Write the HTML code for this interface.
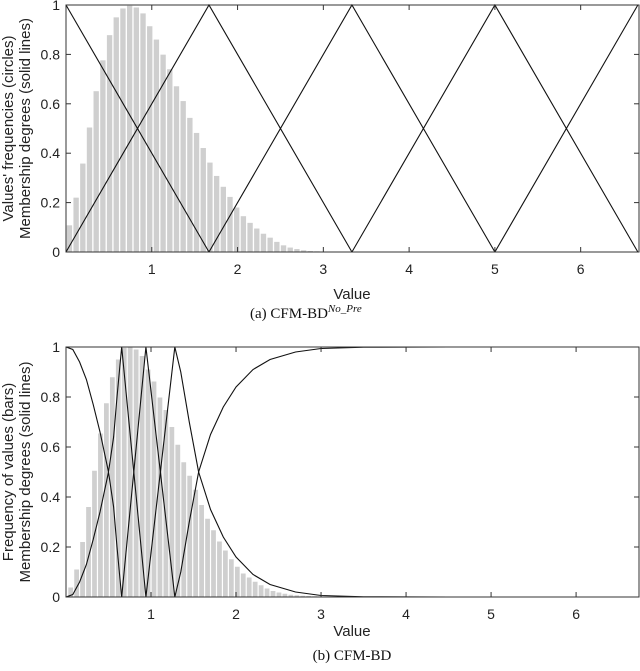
<!DOCTYPE html>
<html><head><meta charset="utf-8"><style>
body{margin:0;background:#fff;width:640px;height:666px;overflow:hidden}
svg text{font-family:"Liberation Sans",Arial,sans-serif;fill:#222}
.cap{font-family:"Liberation Serif","Times New Roman",serif;fill:#111}
</style></head><body>
<svg id="svg" width="640" height="666" xmlns="http://www.w3.org/2000/svg"></svg>
<script>
// ---- Data: panel (a) ----
const barsAStart = 0.04, barsAWidth = 0.078;
const barsAValues = [0.108,0.22,0.358,0.504,0.651,0.776,0.878,0.95,0.986,0.997,0.99,0.966,0.914,0.86,0.799,0.74,0.671,0.611,0.543,0.482,0.421,0.362,0.308,0.264,0.223,0.18,0.145,0.118,0.095,0.074,0.058,0.041,0.027,0.018,0.012,0.007,0.004,0.003,0.002,0.001];
const triPeaksA = [0, 1.6667, 3.3333, 5, 6.6667];
// ---- Data: panel (b) ----
const barsBStart = 0.055, barsBWidth = 0.07;
const barsBValues = [0.038,0.11,0.22,0.36,0.505,0.654,0.775,0.879,0.95,0.997,1.0,0.99,0.964,0.91,0.862,0.798,0.748,0.68,0.609,0.539,0.485,0.429,0.368,0.313,0.267,0.222,0.186,0.151,0.121,0.094,0.078,0.061,0.047,0.034,0.024,0.018,0.013,0.009,0.007,0.005,0.004,0.003,0.002,0.002,0.001,0.001];
const leftShoulderX = [0,0.08,0.16,0.24,0.32,0.4,0.5,0.56,0.6,0.63,0.655];
const leftShoulderY = [1,0.99,0.94,0.87,0.77,0.66,0.5,0.36,0.2,0.09,0];
const triPeaksB = [0.655, 0.94, 1.28];
const rightTailX = [1.28,1.35,1.45,1.56,1.7,1.85,2.0,2.2,2.4,2.7,3.0,3.5,4.5,6.74];
const rightTailY = [1,0.9,0.7,0.5,0.35,0.24,0.16,0.09,0.05,0.02,0.006,0.001,0,0];
const yTicks = [0,0.2,0.4,0.6,0.8,1];
const yTickLabels = ["0","0.2","0.4","0.6","0.8","1"];
const xTicks = [1,2,3,4,5,6];

const NS="http://www.w3.org/2000/svg", svg=document.getElementById('svg');
function mk(tag, attrs, parent){const e=document.createElementNS(NS,tag);for(const k in attrs)e.setAttribute(k,attrs[k]);(parent||svg).appendChild(e);return e;}

function panel(cfg){
  const g=mk('g',{});
  
  
  const L=66,R=639,T=cfg.top,B=cfg.bottom;
  const sx=v=>L+(v-0)*(R-L)/cfg.xmax, sy=v=>B-v*(B-T);
  cfg.bars.forEach((v,i)=>{
    const c=cfg.bStart+i*cfg.bWidth;
    const x0=sx(c-cfg.bWidth*0.4), x1=sx(c+cfg.bWidth*0.4);
    if(x0>R) return;
    const r=mk('rect',{x:x0,y:sy(v),width:x1-x0,height:B-sy(v),fill:'#cfcfcf'},g);
    
    
  });
  cfg.lines.forEach(pts=>{
    const p=mk('polyline',{points:pts.map(q=>sx(q[0]).toFixed(2)+','+sy(q[1]).toFixed(2)).join(' '),fill:'none',stroke:'#111','stroke-width':1.1},g);
    
    
  });
  const box=mk('rect',{x:L,y:T,width:R-L,height:B-T,fill:'none',stroke:'#333','stroke-width':1},g);
  
  
  yTicks.forEach((v,i)=>{
    mk('line',{x1:L,x2:L+5,y1:sy(v),y2:sy(v),stroke:'#333'},g);
    mk('line',{x1:R-5,x2:R,y1:sy(v),y2:sy(v),stroke:'#333'},g);
    const t=mk('text',{x:L-6,y:sy(v)+5,'text-anchor':'end','font-size':14},g);
    t.textContent=yTickLabels[i];
    
    
  });
  xTicks.forEach(v=>{
    mk('line',{x1:sx(v),x2:sx(v),y1:B,y2:B-5,stroke:'#333'},g);
    mk('line',{x1:sx(v),x2:sx(v),y1:T,y2:T+5,stroke:'#333'},g);
    const t=mk('text',{x:sx(v),y:B+22,'text-anchor':'middle','font-size':14},g);
    t.textContent=String(v);
    
    
  });
  const xl=mk('text',{x:352,y:B+cfg.xlOff,'text-anchor':'middle','font-size':15},g);
  xl.textContent='Value';
  
  
  const cy=(T+B)/2;
  cfg.ylabels.forEach((s,i)=>{
    const t=mk('text',{x:0,y:0,'text-anchor':'middle','font-size':15,transform:`translate(${13+i*17},${cy}) rotate(-90)`},g);
    t.textContent=s;
    
    
  });
}

const linesA=[];
for(let i=0;i<triPeaksA.length;i++){
  const p=triPeaksA[i], a=i>0?triPeaksA[i-1]:null, b=i<triPeaksA.length-1?triPeaksA[i+1]:null;
  const pts=[]; if(a!==null)pts.push([a,0]); pts.push([p,1]); if(b!==null)pts.push([b,0]);
  linesA.push(pts);
}
panel({name:'chart-a',top:5,bottom:252,xmax:6.68,xlOff:47,bars:barsAValues,bStart:barsAStart,bWidth:barsAWidth,lines:linesA,
  ylabels:["Values' frequencies (circles)","Membership degrees (solid lines)"]});

const linesB=[];
linesB.push(leftShoulderX.map((x,i)=>[x,leftShoulderY[i]]));
linesB.push(leftShoulderX.map((x,i)=>[x,1-leftShoulderY[i]]).concat([[triPeaksB[1],0]]));
linesB.push([[triPeaksB[0],0],[triPeaksB[1],1],[triPeaksB[2],0]]);
linesB.push([[triPeaksB[1],0]].concat(rightTailX.map((x,i)=>[x,rightTailY[i]])));
linesB.push(rightTailX.map((x,i)=>[x,1-rightTailY[i]]));
panel({name:'chart-b',top:347,bottom:597,xmax:6.74,xlOff:39,bars:barsBValues,bStart:barsBStart,bWidth:barsBWidth,lines:linesB,
  ylabels:["Frequency of values (bars)","Membership degrees (solid lines)"]});
</script>
<svg width="640" height="666" style="position:absolute;left:0;top:0" xmlns="http://www.w3.org/2000/svg">
<text class="cap" x="250" y="318" font-size="15">(a) CFM-BD<tspan font-style="italic" font-size="11" dy="-6">No_Pre</tspan></text>
<text class="cap" x="352" y="660" font-size="15" text-anchor="middle">(b) CFM-BD</text>
</svg>
</body></html>
